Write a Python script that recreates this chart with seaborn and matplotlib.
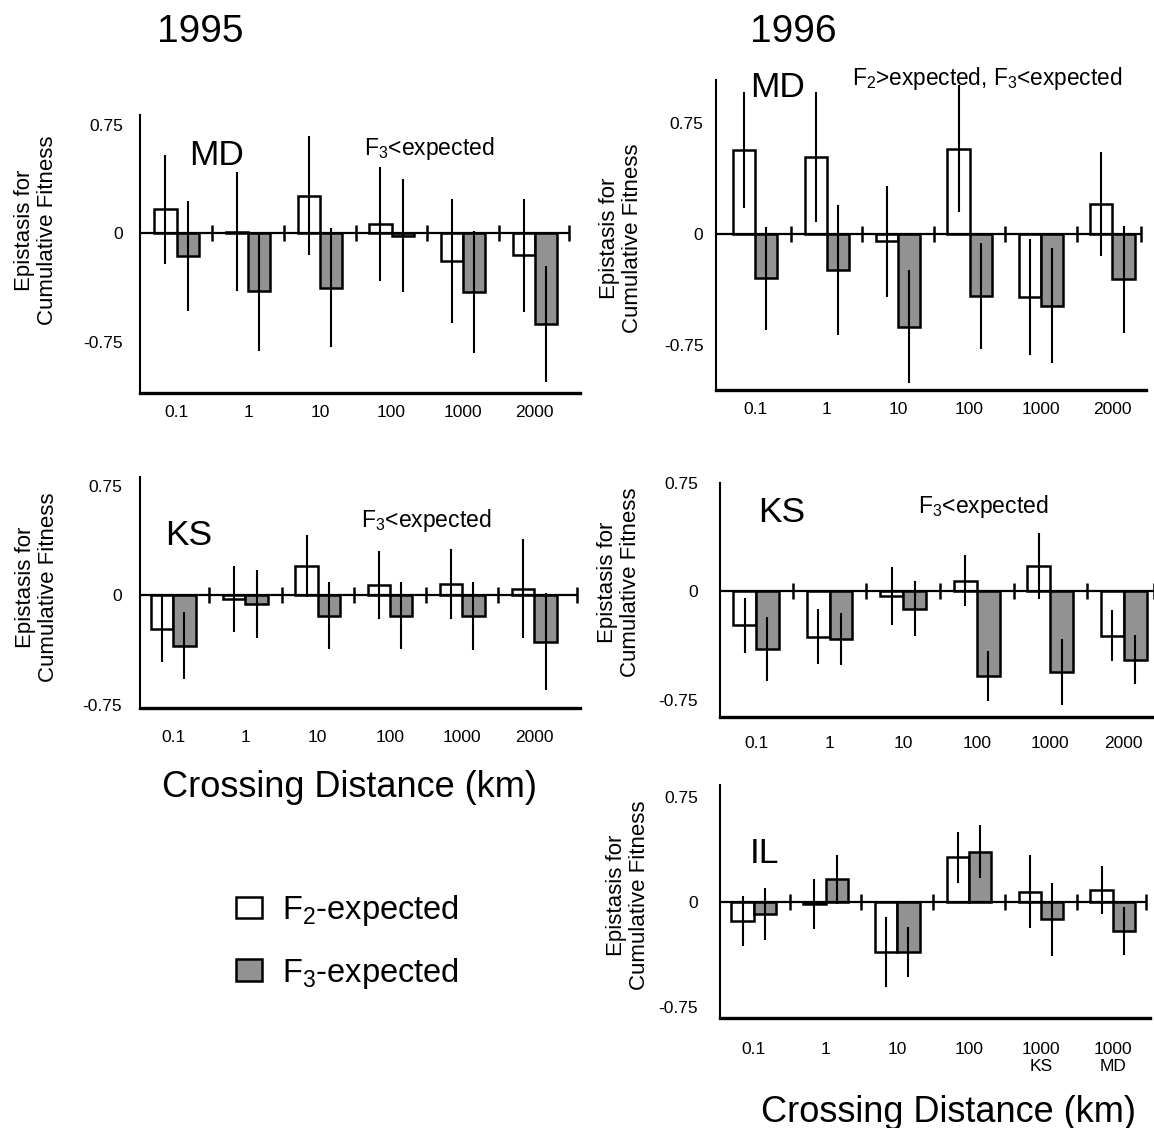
import numpy as np
import pandas as pd
import matplotlib
matplotlib.use("Agg")
import matplotlib.pyplot as plt
import seaborn as sns
from matplotlib.patches import Patch

sns.set_style("white")
plt.rcParams['font.family'] = ['Liberation Sans', 'DejaVu Sans']
plt.rcParams['mathtext.fontset'] = 'custom'
plt.rcParams['mathtext.rm'] = 'Liberation Sans'
plt.rcParams['mathtext.it'] = 'Liberation Sans:italic'
plt.rcParams['mathtext.bf'] = 'Liberation Sans:bold'
for k in ['text.color', 'axes.labelcolor', 'xtick.color', 'ytick.color', 'axes.edgecolor']:
    plt.rcParams[k] = 'black'

# ---------------- data ----------------
dist_std = ['0.1', '1', '10', '100', '1000', '2000']
dist_il = ['0.1', '1', '10', '100', '1000\nKS', '1000\nMD']

# 1995 MD
md95_f2 = [0.165, 0.01, 0.26, 0.065, -0.19, -0.15]
md95_f2_err = [0.375, 0.41, 0.41, 0.39, 0.43, 0.39]
md95_f3 = [-0.155, -0.40, -0.375, -0.015, -0.405, -0.625]
md95_f3_err = [0.38, 0.41, 0.41, 0.39, 0.42, 0.40]

# 1996 MD
md96_f2 = [0.565, 0.52, -0.05, 0.575, -0.427, 0.20]
md96_f2_err = [0.39, 0.44, 0.376, 0.43, 0.39, 0.35]
md96_f3 = [-0.30, -0.243, -0.625, -0.418, -0.483, -0.306]
md96_f3_err = [0.35, 0.44, 0.38, 0.36, 0.39, 0.36]

# 1995 KS
ks95_f2 = [-0.23, -0.025, 0.20, 0.068, 0.078, 0.046]
ks95_f2_err = [0.23, 0.225, 0.21, 0.233, 0.24, 0.34]
ks95_f3 = [-0.345, -0.058, -0.14, -0.14, -0.14, -0.317]
ks95_f3_err = [0.23, 0.233, 0.23, 0.23, 0.233, 0.33]

# 1996 KS
ks96_f2 = [-0.234, -0.314, -0.03, 0.073, 0.175, -0.307]
ks96_f2_err = [0.19, 0.19, 0.20, 0.176, 0.227, 0.177]
ks96_f3 = [-0.40, -0.33, -0.12, -0.586, -0.559, -0.473]
ks96_f3_err = [0.22, 0.18, 0.19, 0.17, 0.227, 0.17]

# 1996 IL
il96_f2 = [-0.136, -0.015, -0.357, 0.317, 0.071, 0.083]
il96_f2_err = [0.18, 0.18, 0.25, 0.18, 0.26, 0.17]
il96_f3 = [-0.088, 0.16, -0.357, 0.357, -0.124, -0.207]
il96_f3_err = [0.185, 0.175, 0.18, 0.19, 0.26, 0.17]

series_names = ['F2-expected', 'F3-expected']
ytick_vals = [0.75, 0, -0.75]
ytick_labels = ['0.75', '0', '-0.75']

GRAY = '#929292'
W, H = 1154, 1128
fig = plt.figure(figsize=(W / 100, H / 100), dpi=100)


def px_axes(left, right, top, bottom):
    return fig.add_axes([left / W, 1 - bottom / H, (right - left) / W, (bottom - top) / H])


def panel(box, cats, f2, f2e, f3, f3e, ylim, xlim, zero_end, xpad, ypad):
    ax = px_axes(*box)
    df = pd.DataFrame({
        'dist': cats * 2,
        'series': [series_names[0]] * len(cats) + [series_names[1]] * len(cats),
        'value': list(f2) + list(f3),
    })
    sns.barplot(data=df, x='dist', y='value', hue='series', order=cats,
                hue_order=series_names,
                palette={series_names[0]: 'white', series_names[1]: GRAY},
                width=0.62, edgecolor='black', linewidth=1.8, saturation=1,
                errorbar=None, legend=False, ax=ax, zorder=2)
    for cont, vals, errs in zip(ax.containers, [f2, f3], [f2e, f3e]):
        xs = [p.get_x() + p.get_width() / 2 for p in cont]
        ax.errorbar(xs, vals, yerr=errs, fmt='none', ecolor='black',
                    elinewidth=1.5, capsize=0, zorder=5)
    ax.set_xlim(*xlim)
    ax.set_ylim(*ylim)
    # zero reference line with separator ticks between groups
    frac = (zero_end - xlim[0]) / (xlim[1] - xlim[0])
    ax.axhline(0, xmin=0, xmax=frac, color='black', lw=1.6, zorder=6)
    seps = list(np.arange(0.5, len(cats) - 0.5, 1.0)) + [zero_end]
    ax.plot(seps, [0] * len(seps), linestyle='none', marker='|', ms=11,
            mew=1.8, color='black', zorder=6)
    ax.set_yticks(ytick_vals)
    ax.set_yticklabels(ytick_labels)
    ax.set_xlabel('')
    ax.set_ylabel('')
    ax.tick_params(axis='x', length=0, pad=xpad, labelsize=12.5, labelcolor='black')
    ax.tick_params(axis='y', length=0, pad=ypad, labelsize=12.5, labelcolor='black')
    for s in ['top', 'right']:
        ax.spines[s].set_visible(False)
    ax.spines['left'].set_linewidth(1.5)
    ax.spines['bottom'].set_linewidth(2.4)
    ax.spines['left'].set_color('black')
    ax.spines['bottom'].set_color('black')
    return ax


ax1 = panel((140, 580, 115, 393), dist_std, md95_f2, md95_f2_err, md95_f3, md95_f3_err,
            (-1.10, 0.816), (-0.51, 5.63), 5.47, 9, 12)
ax2 = panel((716, 1146, 80, 390), dist_std, md96_f2, md96_f2_err, md96_f3, md96_f3_err,
            (-1.052, 1.038), (-0.55, 5.47), 5.40, 9, 9)
ax3 = panel((140, 580, 477, 708), dist_std, ks95_f2, ks95_f2_err, ks95_f3, ks95_f3_err,
            (-0.772, 0.81), (-0.46, 5.63), 5.59, 16, 13)
ax4 = panel((720, 1154, 483, 717), dist_std, ks96_f2, ks96_f2_err, ks96_f3, ks96_f3_err,
            (-0.87, 0.75), (-0.49, 5.41), 5.41, 14, 16)
ax5 = panel((720, 1150, 785, 1018), dist_il, il96_f2, il96_f2_err, il96_f3, il96_f3_err,
            (-0.83, 0.833), (-0.47, 5.52), 5.47, 17, 16)


def ftext(x, y, s, size, ha='left', va='baseline', **kw):
    fig.text(x / W, 1 - y / H, s, fontsize=size, ha=ha, va=va, color='black', **kw)


ylab = 'Epistasis for\nCumulative Fitness'
for (x, y) in [(36, 230), (621, 238), (37, 587), (619, 582), (628, 895)]:
    ftext(x, y, ylab, 16, ha='center', va='center', rotation=90,
          multialignment='center', linespacing=1.1)

# titles
ftext(200, 42, '1995', 28, ha='center')
ftext(793, 42, '1996', 28, ha='center')

# panel labels
ftext(189, 165, 'MD', 25.5)
ftext(750, 97, 'MD', 25.5)
ftext(165, 545, 'KS', 25.5)
ftext(758, 522, 'KS', 25.5)
ftext(750, 863, 'IL', 25.5)

f3txt = r'F$_{\mathrm{3}}$<expected'
ftext(364, 155, f3txt, 16.5)
ftext(361, 527, f3txt, 16.5)
ftext(918, 513, f3txt, 16.5)
ftext(852, 85, r'F$_{\mathrm{2}}$>expected, F$_{\mathrm{3}}$<expected', 16.3)

# axis titles
ftext(350, 797, 'Crossing Distance (km)', 26, ha='center')
ftext(761, 1122, 'Crossing Distance (km)', 26, ha='left')

# legend
handles = [Patch(facecolor='white', edgecolor='black', linewidth=1.8),
           Patch(facecolor=GRAY, edgecolor='black', linewidth=1.8)]
labels = [r'F$_{\mathrm{2}}$-expected', r'F$_{\mathrm{3}}$-expected']
leg = fig.legend(handles, labels, loc='upper left', bbox_to_anchor=(236 / W, 1 - 893 / H),
                 frameon=False, fontsize=23.5, handlelength=0.8, handleheight=0.65,
                 handletextpad=0.6, labelspacing=0.85, borderpad=0, borderaxespad=0)
for t in leg.get_texts():
    t.set_color('black')

fig.savefig('out.png', dpi=100)
